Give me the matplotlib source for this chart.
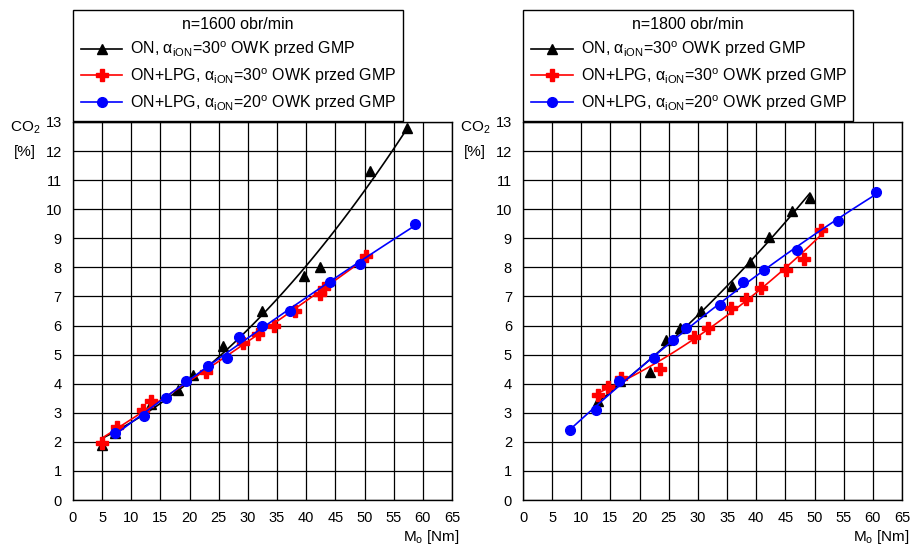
import numpy as np
import matplotlib
matplotlib.use("Agg")
import matplotlib.pyplot as plt

plt.rcParams['font.family'] = ['Liberation Sans', 'DejaVu Sans']
plt.rcParams['mathtext.fontset'] = 'custom'
plt.rcParams['mathtext.rm'] = 'Liberation Sans'
plt.rcParams['mathtext.it'] = 'Liberation Sans:italic'

# n = 1600 obr/min
on_1600_x = [5.0, 7.2, 13.4, 18.0, 20.6, 25.8, 32.4, 39.7, 42.4, 51.0, 57.2]
on_1600_y = [1.9, 2.3, 3.3, 3.8, 4.3, 5.3, 6.5, 7.7, 8.0, 11.3, 12.8]
lpg30_1600_x = [5.0, 7.5, 12.0, 13.4, 22.8, 29.1, 31.8, 34.4, 38.1, 42.3, 43.0, 50.2]
lpg30_1600_y = [1.95, 2.5, 3.1, 3.4, 4.4, 5.4, 5.7, 6.0, 6.5, 7.1, 7.3, 8.4]
lpg20_1600_x = [7.2, 12.2, 16.0, 19.4, 23.1, 26.4, 28.5, 32.5, 37.2, 44.0, 49.2, 58.7]
lpg20_1600_y = [2.3, 2.9, 3.5, 4.1, 4.6, 4.9, 5.6, 6.0, 6.5, 7.5, 8.1, 9.5]

# n = 1800 obr/min
on_1800_x = [12.9, 16.6, 21.7, 24.6, 26.9, 30.6, 35.8, 38.9, 42.2, 46.1, 49.2]
on_1800_y = [3.4, 4.1, 4.4, 5.5, 5.9, 6.5, 7.35, 8.2, 9.05, 9.95, 10.4]
lpg30_1800_x = [12.8, 14.5, 16.8, 23.5, 29.4, 31.7, 35.7, 38.3, 40.8, 45.1, 48.1, 51.1]
lpg30_1800_y = [3.6, 3.9, 4.2, 4.5, 5.6, 5.9, 6.6, 6.9, 7.3, 7.9, 8.3, 9.3]
lpg20_1800_x = [8.0, 12.5, 16.5, 22.4, 25.8, 28.0, 33.7, 37.8, 41.4, 47.0, 54.0, 60.5]
lpg20_1800_y = [2.4, 3.1, 4.1, 4.9, 5.5, 5.9, 6.7, 7.5, 7.9, 8.6, 9.6, 10.6]

labels = ["ON, α$_{\\mathregular{iON}}$=30$^{\\mathregular{o}}$ OWK przed GMP",
          "ON+LPG, α$_{\\mathregular{iON}}$=30$^{\\mathregular{o}}$ OWK przed GMP",
          "ON+LPG, α$_{\\mathregular{iON}}$=20$^{\\mathregular{o}}$ OWK przed GMP"]
titles = ["n=1600 obr/min", "n=1800 obr/min"]

styles = [dict(color='black', marker='^', ms=7),
          dict(color='red', marker='P', ms=8),
          dict(color='blue', marker='o', ms=7)]


def trend(ax, x, y, style, label):
    # 2nd order trend line through the measured points
    c = np.polyfit(x, y, 2)
    xs = np.linspace(min(x), max(x), 100)
    ax.plot(xs, np.polyval(c, xs), color=style['color'], lw=1.2)
    ax.plot(x, y, ls='none', marker=style['marker'], ms=style['ms'],
            color=style['color'], mec=style['color'])
    return plt.Line2D([], [], color=style['color'], lw=1.2, marker=style['marker'],
                      ms=style['ms'], mec=style['color'], label=label)


fig = plt.figure(figsize=(9.12, 5.47), dpi=100)
ax1 = fig.add_axes([0.080, 0.0859, 0.4156, 0.6911])
ax2 = fig.add_axes([0.5735, 0.0859, 0.4156, 0.6911])

data = [
    [(on_1600_x, on_1600_y), (lpg30_1600_x, lpg30_1600_y), (lpg20_1600_x, lpg20_1600_y)],
    [(on_1800_x, on_1800_y), (lpg30_1800_x, lpg30_1800_y), (lpg20_1800_x, lpg20_1800_y)],
]

for ax, series, title in zip([ax1, ax2], data, titles):
    handles = []
    for (x, y), st, lab in zip(series, styles, labels):
        handles.append(trend(ax, x, y, st, lab))
    ax.set_xlim(0, 65)
    ax.set_ylim(0, 13)
    ax.set_xticks(np.arange(0, 66, 5))
    ax.set_yticks(np.arange(0, 14, 1))
    ax.grid(True, color='black', lw=0.9)
    ax.set_axisbelow(True)
    ax.tick_params(length=0, labelsize=10.5, pad=8)
    for s in ax.spines.values():
        s.set_linewidth(1.0)
    ax.text(-0.127, 0.985, "CO$_2$", transform=ax.transAxes, fontsize=11,
            ha='center', va='center')
    ax.text(-0.127, 0.92, "[%]", transform=ax.transAxes, fontsize=11,
            ha='center', va='center')
    ax.text(1.02, -0.098, "M$_\\mathregular{o}$ [Nm]", transform=ax.transAxes,
            fontsize=11, ha='right', va='center')
    leg = ax.legend(handles=handles, title=title, loc='lower left',
                    bbox_to_anchor=(0, 1.003, 0.871, 0.2), mode='expand',
                    borderaxespad=0, fontsize=11.5, title_fontsize=11.5,
                    handlelength=2.6, handletextpad=0.5, labelspacing=0.45,
                    fancybox=False, edgecolor='black', framealpha=1,
                    borderpad=0.5)
    leg.get_frame().set_linewidth(1.0)

fig.savefig("out.png", dpi=100)
